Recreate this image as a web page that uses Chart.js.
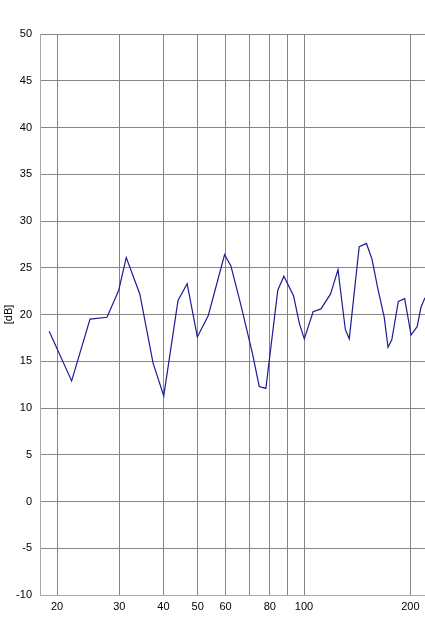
<!DOCTYPE html>
<html>
<head>
<meta charset="utf-8">
<script src="https://cdn.jsdelivr.net/npm/chart.js@4.4.0/dist/chart.umd.min.js"></script>
<style>
    html, body { margin: 0; padding: 0; background: #fff; }
    #wrap { width: 425px; height: 625px; }
</style>
</head>
<body>
<div id="wrap"><canvas id="dbChart"></canvas></div>
<script>
// frequency points (Hz) and level (dB)
const freqs = [19.0, 22.0, 24.8, 27.7, 29.9, 31.4, 34.3, 37.4, 40.1, 44.0,
    46.7, 49.9, 53.6, 59.6, 62.1, 66.1, 71.4, 74.7, 78.0, 84.3,
    87.7, 93.4, 97.1, 100.2, 106.1, 111.7, 118.9, 124.8, 130.9, 134.3,
    143.3, 150.2, 155.8, 161.5, 168.7, 172.9, 177.2, 184.9, 192.7, 200.9,
    209.0, 214.4, 220.0];
const levels = [18.2, 12.9, 19.5, 19.7, 22.6, 26.1, 22.2, 14.8, 11.3, 21.5,
    23.3, 17.6, 19.9, 26.4, 25.2, 21.2, 15.9, 12.3, 12.1, 22.6,
    24.1, 22.0, 19.0, 17.4, 20.3, 20.6, 22.2, 24.8, 18.4, 17.4,
    27.25, 27.6, 25.9, 22.9, 19.7, 16.5, 17.3, 21.4, 21.7, 17.8,
    18.7, 20.8, 21.8];

const xTicks = [20, 30, 40, 50, 60, 70, 80, 90, 100, 200];
const xHidden = [70, 90];

const ctx = document.getElementById('dbChart').getContext('2d');

new Chart(ctx, {
    type: 'line',
    data: {
        datasets: [{
            data: freqs.map((f, i) => ({ x: f, y: levels[i] })),
            borderColor: '#1c1c96',
            borderWidth: 1.2,
            pointRadius: 0,
            tension: 0,
            fill: false
        }]
    },
    options: {
        responsive: true,
        maintainAspectRatio: false,
        animation: false,
        layout: { padding: { top: 34, right: 0, left: 0, bottom: 0 } },
        plugins: {
            legend: { display: false },
            tooltip: { enabled: false }
        },
        scales: {
            x: {
                type: 'logarithmic',
                min: 17.9,
                max: 220,
                afterBuildTicks: function(scale) {
                    scale.ticks = xTicks.map(v => ({ value: v }));
                },
                afterFit: function(scale) { scale.height = 30; },
                ticks: {
                    autoSkip: false,
                    maxRotation: 0,
                    padding: 5,
                    color: '#000',
                    font: { family: 'Liberation Sans, Arial', size: 11 },
                    callback: function(v) {
                        return xHidden.includes(v) ? '' : String(v);
                    }
                },
                grid: { color: '#858585', lineWidth: 1, drawTicks: false },
                border: { color: '#a8a8a8' }
            },
            y: {
                min: -10,
                max: 50,
                afterFit: function(scale) { scale.width = 40; },
                ticks: {
                    stepSize: 5,
                    padding: 8,
                    color: '#000',
                    font: { family: 'Liberation Sans, Arial', size: 11 }
                },
                title: {
                    display: true,
                    text: '[dB]',
                    color: '#000',
                    font: { family: 'Liberation Sans, Arial', size: 11 },
                    padding: { top: 2, bottom: 0 }
                },
                grid: { color: '#858585', lineWidth: 1, drawTicks: false },
                border: { color: '#a8a8a8' }
            }
        }
    }
});
</script>
</body>
</html>
